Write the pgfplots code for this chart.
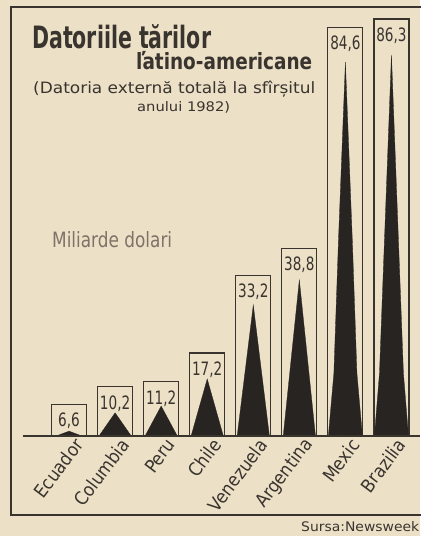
\documentclass[border=0pt]{standalone}
\usepackage{pgfplots}
\pgfplotsset{compat=1.18}
\usepackage{pgfplotstable}
\usepackage{fontspec}
\usepackage{graphicx}
\setmainfont{DejaVu Sans Condensed}
\newfontfamily\wide{DejaVu Sans}
\definecolor{paper}{RGB}{236,224,199}
\definecolor{ink}{RGB}{58,52,47}
\definecolor{spike}{RGB}{40,36,33}
\definecolor{faded}{RGB}{125,115,104}

\pgfplotstableread{
idx name box
0 Ecuador 6.6
1 Columbia 10.2
2 Peru 11.2
3 Chile 17.2
4 Venezuela 33.2
5 Argentina 38.8
6 Mexic 84.6
7 Brazilia 86.3
}\debts

\pgfplotstableread{
x y
-0.28 0
0 1.0
0.28 0
0.65 0
1 4.8
1.35 0
1.65 0
2 6.2
2.35 0
2.65 0
3 11.8
3.35 0
3.65 0
4 27.1
4.35 0
4.65 0
5 32.3
5.35 0
5.63 0
5.75 13
5.85 40.6
6 77.4
6.15 40.6
6.25 13
6.37 0
6.63 0
6.74 13
6.85 41
7 78.9
7.15 41
7.26 13
7.37 0
}\spikes

\begin{document}
\begin{tikzpicture}[x=1bp,y=1bp]
\useasboundingbox (0,0) rectangle (420,536);
\fill[paper] (0,0) rectangle (420,536);
% frame
\draw[ink, line width=1.3bp] (421,529) -- (11,529) -- (11,21) -- (421,21);
% titles
\node[anchor=base west, inner sep=0, text=ink] at (32,487) {\resizebox{179bp}{24bp}{\bfseries Datoriile țărilor}};
\node[anchor=base west, inner sep=0, text=ink] at (136,466) {\resizebox{176bp}{17bp}{\bfseries latino-americane}};
\node[anchor=base west, inner sep=0, text=ink] at (33,442) {\resizebox{282bp}{12.5bp}{(Datoria externă totală la sfîrșitul}};
\node[anchor=base west, inner sep=0, text=ink] at (137,424) {\resizebox{93bp}{10bp}{anului 1982)}};
\node[anchor=base west, inner sep=0, text=faded] at (52,288) {\resizebox{120bp}{16bp}{Miliarde dolari}};
\node[anchor=base west, inner sep=0, text=ink] at (301,4) {\resizebox{118bp}{10bp}{\wide Sursa:Newsweek}};

\begin{axis}[
  at={(23bp,100bp)}, anchor=south west,
  scale only axis, width=397bp, height=428bp,
  xmin=-1, xmax=7.62, ymin=0, ymax=88.6,
  clip=false,
  axis x line=bottom, axis y line=none,
  x axis line style={-, ink, line width=2.3bp},
  axis on top,
  xtick={0,...,7},
  xticklabels from table={\debts}{name},
  major tick length=0,
  xticklabel style={rotate=53, anchor=east, inner sep=0, text=ink,
    font=\fontsize{18.5}{18.5}\selectfont, xshift=2bp, yshift=-11bp},
  ytick=\empty,
]
\addplot[ybar, bar width=0.76, fill=paper, draw=ink, line width=1.2bp,
  nodes near coords={\scalebox{0.82}[1]{\pgfmathprintnumber[assume math mode=true]{\pgfplotspointmeta}}},
  nodes near coords align={below},
  every node near coord/.append style={anchor=north, text=ink, inner sep=0, yshift=-8bp,
    font=\fontsize{18.5}{18.5}\selectfont,
    /pgf/number format/.cd, fixed, fixed zerofill, precision=1, use comma, assume math mode=true}
] table[x=idx, y=box] {\debts};
\addplot[fill=spike, draw=spike, line width=0.3bp] table[x=x, y=y] {\spikes} -- cycle;
\end{axis}
\end{tikzpicture}
\end{document}
